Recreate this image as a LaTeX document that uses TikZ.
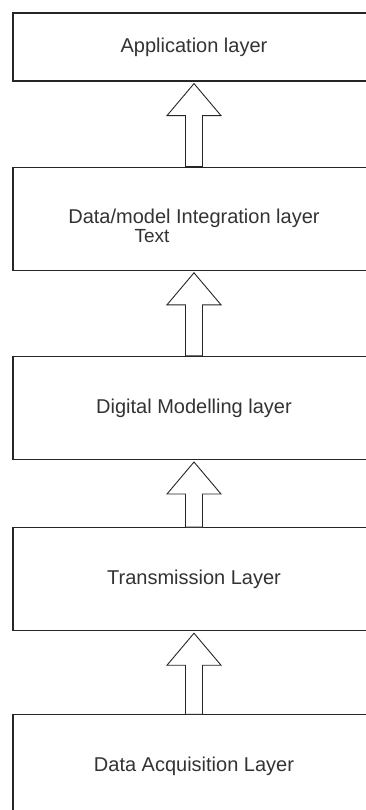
\documentclass[tikz,border=0pt]{standalone}
\usepackage{fontspec}
\setmainfont{Liberation Sans}
\usetikzlibrary{calc, positioning}

\begin{document}
\begin{tikzpicture}[x=1pt, y=-1pt,
            layer/.style={draw=black!85, line width=1.2pt, fill=white,
                    minimum width=362pt, minimum height=103pt, inner sep=0pt,
                    text=black!80, font=\fontsize{20}{24}\selectfont},
            note/.style={text=black!80, inner sep=0pt, font=\fontsize{19}{22}\selectfont},
            blockarrow/.style={draw=black!85, line width=0.9pt, fill=white, line join=miter},
        ]
        \useasboundingbox (0,0) rectangle (366,810);

        \node[layer, minimum height=68pt] (app) at (194,47) {Application layer};
        \node[layer, below=85pt of app] (integ) {Data/model Integration layer};
        \node[note] (integnote) at ($(integ.center)+(-42,17)$) {Text};
        \node[layer, below=85pt of integ] (digital) {Digital Modelling layer};
        \node[layer, below=67pt of digital] (trans) {Transmission Layer};
        \node[layer, below=83pt of trans] (acq) {Data Acquisition Layer};

        \draw[blockarrow] ($(app.south)+(0,2)$) -- ++(27,32) -- ++(-18.5,0)
            -- ($(integ.north)+(8.5,0)$) -- ($(integ.north)+(-8.5,0)$)
            |- ($(app.south)+(-27,34)$) -- cycle;
        \draw[blockarrow] ($(integ.south)+(0,2)$) -- ++(27,32) -- ++(-18.5,0)
            -- ($(digital.north)+(8.5,0)$) -- ($(digital.north)+(-8.5,0)$)
            |- ($(integ.south)+(-27,34)$) -- cycle;
        \draw[blockarrow] ($(digital.south)+(0,2)$) -- ++(27,32) -- ++(-18.5,0)
            -- ($(trans.north)+(8.5,0)$) -- ($(trans.north)+(-8.5,0)$)
            |- ($(digital.south)+(-27,34)$) -- cycle;
        \draw[blockarrow] ($(trans.south)+(0,2)$) -- ++(27,32) -- ++(-18.5,0)
            -- ($(acq.north)+(8.5,0)$) -- ($(acq.north)+(-8.5,0)$)
            |- ($(trans.south)+(-27,34)$) -- cycle;

    \end{tikzpicture}
\end{document}
